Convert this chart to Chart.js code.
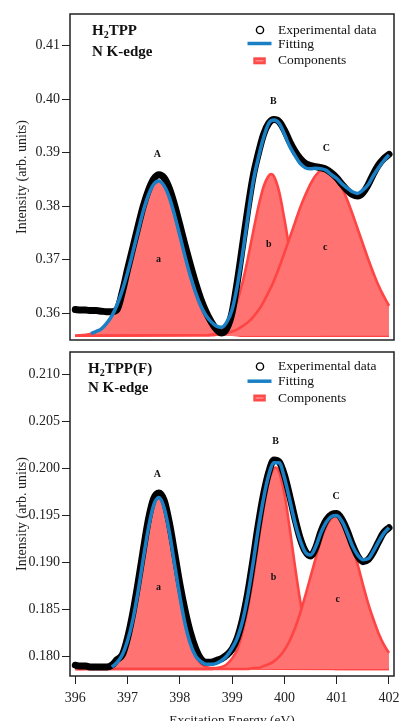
<!DOCTYPE html>
<html><head><meta charset="utf-8">
<script src="https://cdn.jsdelivr.net/npm/chart.js@4"></script>
<style>
html,body{margin:0;padding:0;background:#fff;overflow:hidden;width:399px;height:721px}
#c1{position:absolute;left:0;top:0;width:399px;height:346px}
#c2{position:absolute;left:0;top:342px;width:399px;height:404px}
</style></head><body>
<canvas id="c1" width="399" height="346"></canvas>
<canvas id="c2" width="399" height="404"></canvas>
<script>
// ---------- DATA ----------
const gridE = [396.0,396.1,396.2,396.3,396.4,396.5,396.6,396.7,396.8,396.9,
397.0,397.1,397.2,397.3,397.4,397.5,397.6,397.7,397.8,397.9,
398.0,398.1,398.2,398.3,398.4,398.5,398.6,398.7,398.8,398.9,
399.0,399.1,399.2,399.3,399.4,399.5,399.6,399.7,399.8,399.9,
400.0,400.1,400.2,400.3,400.4,400.5,400.6,400.7,400.8,400.9,
401.0,401.1,401.2,401.3,401.4,401.5,401.6,401.7,401.8,401.9,
402.0];

const xTicks = [396,397,398,399,400,401,402];
const xTickLabels = ['396','397','398','399','400','401','402'];

// H2TPP panel
const topYTicks = [0.36,0.37,0.38,0.39,0.40,0.41];
const topYTickLabels = ['0.36','0.37','0.38','0.39','0.40','0.41'];
const topExpY = [0.3607,0.3606,0.3606,0.3605,0.3605,0.3604,0.3603,0.3603,0.3607,0.3640,
0.3682,0.3722,0.3762,0.3800,0.3830,0.3851,0.3859,0.3853,0.3833,0.3802,
0.3765,0.3727,0.3691,0.3657,0.3627,0.3603,0.3584,0.3570,0.3563,0.3572,
0.3602,0.3660,0.3727,0.3795,0.3855,0.3898,0.3934,0.3955,0.3962,0.3958,
0.3942,0.3921,0.3903,0.3889,0.3880,0.3876,0.3874,0.3872,0.3869,0.3862,
0.3853,0.3841,0.3830,0.3822,0.3819,0.3825,0.3840,0.3860,0.3877,0.3889,
0.3897];
const topFitY = [null,null,null,0.3562,0.3566,0.3571,0.3581,0.3595,0.3616,0.3643,
0.3676,0.3714,0.3753,0.3791,0.3821,0.3841,0.3847,0.3838,0.3816,0.3783,
0.3745,0.3706,0.3670,0.3639,0.3614,0.3596,0.3584,0.3576,0.3574,0.3584,
0.3607,0.3652,0.3712,0.3780,0.3845,0.3890,0.3928,0.3955,0.3961,0.3955,
0.3935,0.3912,0.3895,0.3880,0.3872,0.3870,0.3871,0.3870,0.3867,0.3859,
0.3852,0.3842,0.3834,0.3827,0.3824,0.3830,0.3840,0.3857,0.3872,0.3885,
0.3896];
const topAE = [396.0,396.1,396.2,396.3,396.4,396.5,396.6,396.7,396.8,396.9,
397.0,397.1,397.2,397.3,397.4,397.5,397.6,397.7,397.8,397.9,
398.0,398.1,398.2,398.3,398.4,398.5,398.6,398.7,398.8,398.9,
399.0,399.1,399.2,402.0];
const topAY = [0.3558,0.3559,0.3560,0.3562,0.3566,0.3571,0.3581,0.3595,0.3616,0.3643,
0.3676,0.3714,0.3753,0.3791,0.3821,0.3841,0.3847,0.3838,0.3816,0.3783,
0.3745,0.3706,0.3669,0.3637,0.3611,0.3592,0.3579,0.3570,0.3565,0.3561,
0.3560,0.3559,0.3558,0.3558];
const topBE = [396.0,398.5,398.6,398.7,398.8,398.9,399.0,399.1,399.2,399.3,399.4,399.5,399.6,399.7,
399.75,399.8,399.9,400.0,400.1,400.2,400.3,400.4,400.5,400.6,400.7,400.8,400.9,402.0];
const topBY = [0.3558,0.3559,0.3560,0.3563,0.3569,0.3580,0.3597,0.3623,0.3658,0.3702,0.3751,0.3798,0.3836,0.3857,
0.3860,0.3856,0.3827,0.3776,0.3718,0.3663,0.3621,0.3592,0.3574,0.3565,0.3561,0.3559,0.3558,0.3558];
const topCE = [396.0,398.5,398.6,398.7,398.8,398.9,
399.0,399.1,399.2,399.3,399.4,399.5,399.6,399.7,399.8,399.9,
400.0,400.1,400.2,400.3,400.4,400.5,400.6,400.7,400.8,400.9,
401.0,401.1,401.2,401.3,401.4,401.5,401.6,401.7,401.8,401.9,402.0];
const topCY = [0.3558,0.3559,0.3559,0.3560,0.3562,0.3563,
0.3566,0.3570,0.3576,0.3583,0.3593,0.3605,0.3621,0.3640,0.3661,0.3686,
0.3713,0.3741,0.3769,0.3797,0.3821,0.3842,0.3858,0.3867,0.3869,0.3864,
0.3852,0.3835,0.3812,0.3786,0.3758,0.3730,0.3702,0.3676,0.3652,0.3632,0.3614];
const topBase = 0.3558;
const topPeakText = ['A','B','C','a','b','c'];
const topPeakX = [397.57,399.79,400.80,397.59,399.70,400.78];
const topPeakY = [0.3896,0.3995,0.3908,0.3701,0.3729,0.3724];

// H2TPP(F) panel
const botYTicks = [0.180,0.185,0.190,0.195,0.200,0.205,0.210];
const botYTickLabels = ['0.180','0.185','0.190','0.195','0.200','0.205','0.210'];
const botExpY = [0.1791,0.1790,0.1790,0.1789,0.1789,0.1789,0.1789,0.1791,0.1797,0.1802,
0.1820,0.1846,0.1878,0.1913,0.1946,0.1968,0.1974,0.1966,0.1942,0.1910,
0.1877,0.1849,0.1826,0.1809,0.1798,0.1794,0.1794,0.1796,0.1798,0.1802,
0.1808,0.1820,0.1840,0.1868,0.1903,0.1940,0.1972,0.1996,0.2009,0.2007,
0.1993,0.1971,0.1947,0.1926,0.1912,0.1907,0.1916,0.1933,0.1945,0.1951,
0.1952,0.1946,0.1934,0.1919,0.1907,0.1901,0.1903,0.1911,0.1922,0.1932,
0.1937];
const botFitY = [null,null,null,null,null,null,null,0.1789,0.1794,0.1802,
0.1817,0.1839,0.1869,0.1904,0.1937,0.1961,0.1969,0.1958,0.1932,0.1898,
0.1864,0.1835,0.1814,0.1801,0.1795,0.1792,0.1792,0.1793,0.1796,0.1801,
0.1809,0.1820,0.1838,0.1865,0.1899,0.1936,0.1968,0.1993,0.2006,0.2006,
0.1990,0.1967,0.1943,0.1924,0.1911,0.1908,0.1917,0.1932,0.1943,0.1949,
0.1950,0.1944,0.1932,0.1918,0.1908,0.1903,0.1904,0.1912,0.1922,0.1931,
0.1937];
const botAE = [396.0,396.6,396.7,396.8,396.9,
397.0,397.1,397.2,397.3,397.4,397.5,397.6,397.7,397.8,397.9,
398.0,398.1,398.2,398.3,398.4,398.5,398.6,402.0];
const botAY = [0.1787,0.1788,0.1790,0.1794,0.1802,
0.1817,0.1839,0.1869,0.1904,0.1937,0.1961,0.1968,0.1957,0.1931,0.1897,
0.1863,0.1834,0.1813,0.1800,0.1793,0.1789,0.1788,0.1787];
const botBE = [396.0,398.6,398.7,398.8,398.9,399.0,399.1,399.2,399.3,399.4,399.5,399.6,399.7,399.8,
399.83,399.9,400.0,400.1,400.2,400.3,400.4,400.5,400.6,400.7,400.8,400.9,401.0,402.0];
const botBY = [0.1787,0.1787,0.1788,0.1789,0.1792,0.1798,0.1808,0.1826,0.1851,0.1883,0.1921,0.1957,0.1986,0.2000,
0.2001,0.1996,0.1973,0.1937,0.1897,0.1860,0.1831,0.1811,0.1799,0.1792,0.1789,0.1788,0.1787,0.1787];
const botCE = [396.0,
399.0,399.1,399.2,399.3,399.4,399.5,399.6,399.7,399.8,399.9,
400.0,400.1,400.2,400.3,400.4,400.5,400.6,400.7,400.8,400.9,
401.0,401.1,401.2,401.3,401.4,401.5,401.6,401.7,401.8,401.9,402.0];
const botCY = [0.1787,
0.1787,0.1787,0.1787,0.1787,0.1788,0.1788,0.1790,0.1792,0.1795,0.1800,
0.1807,0.1817,0.1830,0.1846,0.1865,0.1885,0.1905,0.1924,0.1938,0.1947,
0.1949,0.1944,0.1933,0.1917,0.1898,0.1877,0.1857,0.1840,0.1825,0.1813,0.1804];
const botBase = 0.1787;
const botPeakText = ['A','B','C','a','b','c'];
const botPeakX = [397.57,399.83,400.99,397.59,399.79,401.02];
const botPeakY = [0.19938,0.20292,0.19700,0.18737,0.18844,0.18613];

// ---------- STYLE / RENDER ----------
const FONT = "'Liberation Serif','Times New Roman',serif";
const BLUE = '#1a80c6';
const RED_LINE = '#ff4444';
const RED_FILL = '#ff7373';
const X_MIN = 395.899, X_MAX = 402.096;

function pts(xs, ys){ return xs.map((x,i)=>({x:x, y:ys[i]})); }
function comp(xs, ys, base, order){
  return {label:'Components', data:pts(xs,ys), borderColor:RED_LINE, borderWidth:2.6,
    backgroundColor:RED_FILL, fill:{value:base}, pointRadius:0,
    cubicInterpolationMode:'monotone', order:order};
}

function overlay(p){
  return {
    id:'overlay',
    afterDatasetsDraw(chart){
      const ctx = chart.ctx, a = chart.chartArea, xs = chart.scales.x, ys = chart.scales.y;
      ctx.save();
      ctx.strokeStyle = '#222'; ctx.lineWidth = 1.5;
      ctx.strokeRect(a.left, a.top, a.right - a.left, a.bottom - a.top);
      ctx.fillStyle = '#111';
      ctx.font = 'bold 10px ' + FONT;
      ctx.textAlign = 'center'; ctx.textBaseline = 'middle';
      p.peakText.forEach((t,i)=>{
        ctx.fillText(t, xs.getPixelForValue(p.peakX[i]), ys.getPixelForValue(p.peakY[i]));
      });
      ctx.textAlign = 'left'; ctx.textBaseline = 'alphabetic';
      let x = a.left + p.tdx, y = a.top + p.tdy1;
      ctx.font = 'bold 15px ' + FONT;
      ctx.fillText('H', x, y); x += ctx.measureText('H').width;
      ctx.font = 'bold 10px ' + FONT;
      ctx.fillText('2', x, y + 3); x += ctx.measureText('2').width;
      ctx.font = 'bold 15px ' + FONT;
      ctx.fillText(p.nameRest, x, y);
      ctx.fillText('N K-edge', a.left + p.tdx, a.top + p.tdy2);
      const lx = a.left, r1 = a.top + p.ly[0], r2 = a.top + p.ly[1], r3 = a.top + p.ly[2];
      ctx.beginPath(); ctx.arc(lx + 190, r1, 3.6, 0, Math.PI*2);
      ctx.lineWidth = 1.4; ctx.strokeStyle = '#000'; ctx.stroke();
      ctx.beginPath(); ctx.moveTo(lx + 177.5, r2 - 0.5); ctx.lineTo(lx + 201.5, r2 - 0.5);
      ctx.lineWidth = 3.5; ctx.strokeStyle = BLUE; ctx.stroke();
      ctx.fillStyle = '#ff4a4a'; ctx.fillRect(lx + 183.3, r3 - 3.5, 12.5, 7);
      ctx.fillStyle = '#ff9a9a'; ctx.fillRect(lx + 185.5, r3 - 0.6, 8, 1.2);
      ctx.fillStyle = '#111';
      ctx.font = '13.5px ' + FONT; ctx.textBaseline = 'middle';
      ctx.fillText('Experimental data', lx + 208, r1);
      ctx.fillText('Fitting', lx + 208, r2);
      ctx.fillText('Components', lx + 208, r3);
      ctx.restore();
    }
  };
}

function buildConfig(p){
  return {
    type:'line',
    data:{datasets:[
      {label:'Experimental data', data:pts(gridE,p.exp), borderColor:'#000', borderWidth:7,
        borderCapStyle:'round', borderJoinStyle:'round', pointRadius:0, fill:false,
        cubicInterpolationMode:'monotone', order:1},
      {label:'Fitting', data:pts(gridE,p.fit), borderColor:BLUE, borderWidth:3.5,
        pointRadius:0, fill:false, cubicInterpolationMode:'monotone', order:0},
      comp(p.aE,p.aY,p.base,4), comp(p.bE,p.bY,p.base,3), comp(p.cE,p.cY,p.base,2)
    ]},
    options:{
      responsive:false, maintainAspectRatio:false, animation:false, devicePixelRatio:1,
      events:[],
      layout:{padding:p.pad},
      plugins:{legend:{display:false}, tooltip:{enabled:false}},
      scales:{
        x:{type:'linear', min:X_MIN, max:X_MAX, display:p.showX,
          afterBuildTicks:s=>{ s.ticks = xTicks.map(v=>({value:v})); },
          afterFit:s=>{ if (p.showX) s.height = 70; s.paddingLeft = 0; s.paddingRight = 0; },
          ticks:{callback:(v,i)=>xTickLabels[i], font:{family:FONT,size:14}, color:'#222',
            padding:6, maxRotation:0, autoSkip:false},
          grid:{display:true, drawOnChartArea:false, drawTicks:true, tickLength:8, color:'#222', lineWidth:1},
          border:{display:false},
          title:{display:true, text:'Excitation Energy (eV)', font:{family:FONT,size:13.5}, color:'#222',
            padding:{top:0,bottom:17}}
        },
        y:{type:'linear', min:p.yMin, max:p.yMax, position:'left',
          afterBuildTicks:s=>{ s.ticks = p.yTicks.map(v=>({value:v})); },
          afterFit:s=>{ s.width = 70; s.paddingTop = 0; s.paddingBottom = 0; },
          ticks:{callback:(v,i)=>p.yLabels[i], font:{family:FONT,size:14}, color:'#222', padding:2, autoSkip:false},
          grid:{display:true, drawOnChartArea:false, drawTicks:true, tickLength:8, color:'#222', lineWidth:1},
          border:{display:false},
          title:{display:true, text:'Intensity (arb. units)', font:{family:FONT,size:14}, color:'#222',
            padding:{top:13.6,bottom:0}}
        }
      }
    },
    plugins:[overlay(p)]
  };
}

new Chart(document.getElementById('c1'), buildConfig({
  exp:topExpY, fit:topFitY, aE:topAE, aY:topAY, bE:topBE, bY:topBY, cE:topCE, cY:topCY, base:topBase,
  yMin:0.35501, yMax:0.41592, yTicks:topYTicks, yLabels:topYTickLabels,
  pad:{left:0,right:5,top:14,bottom:6}, showX:false,
  peakText:topPeakText, peakX:topPeakX, peakY:topPeakY,
  nameRest:'TPP', tdx:22, tdy1:21, tdy2:42, ly:[16,30,46.8]
}));

new Chart(document.getElementById('c2'), buildConfig({
  exp:botExpY, fit:botFitY, aE:botAE, aY:botAY, bE:botBE, bY:botBY, cE:botCE, cY:botCY, base:botBase,
  yMin:0.17795, yMax:0.21237, yTicks:botYTicks, yLabels:botYTickLabels,
  pad:{left:0,right:5,top:10,bottom:0}, showX:true,
  peakText:botPeakText, peakX:botPeakX, peakY:botPeakY,
  nameRest:'TPP(F)', tdx:18, tdy1:20.7, tdy2:40.3, ly:[14.5,29.7,46]
}));
</script>
</body></html>
